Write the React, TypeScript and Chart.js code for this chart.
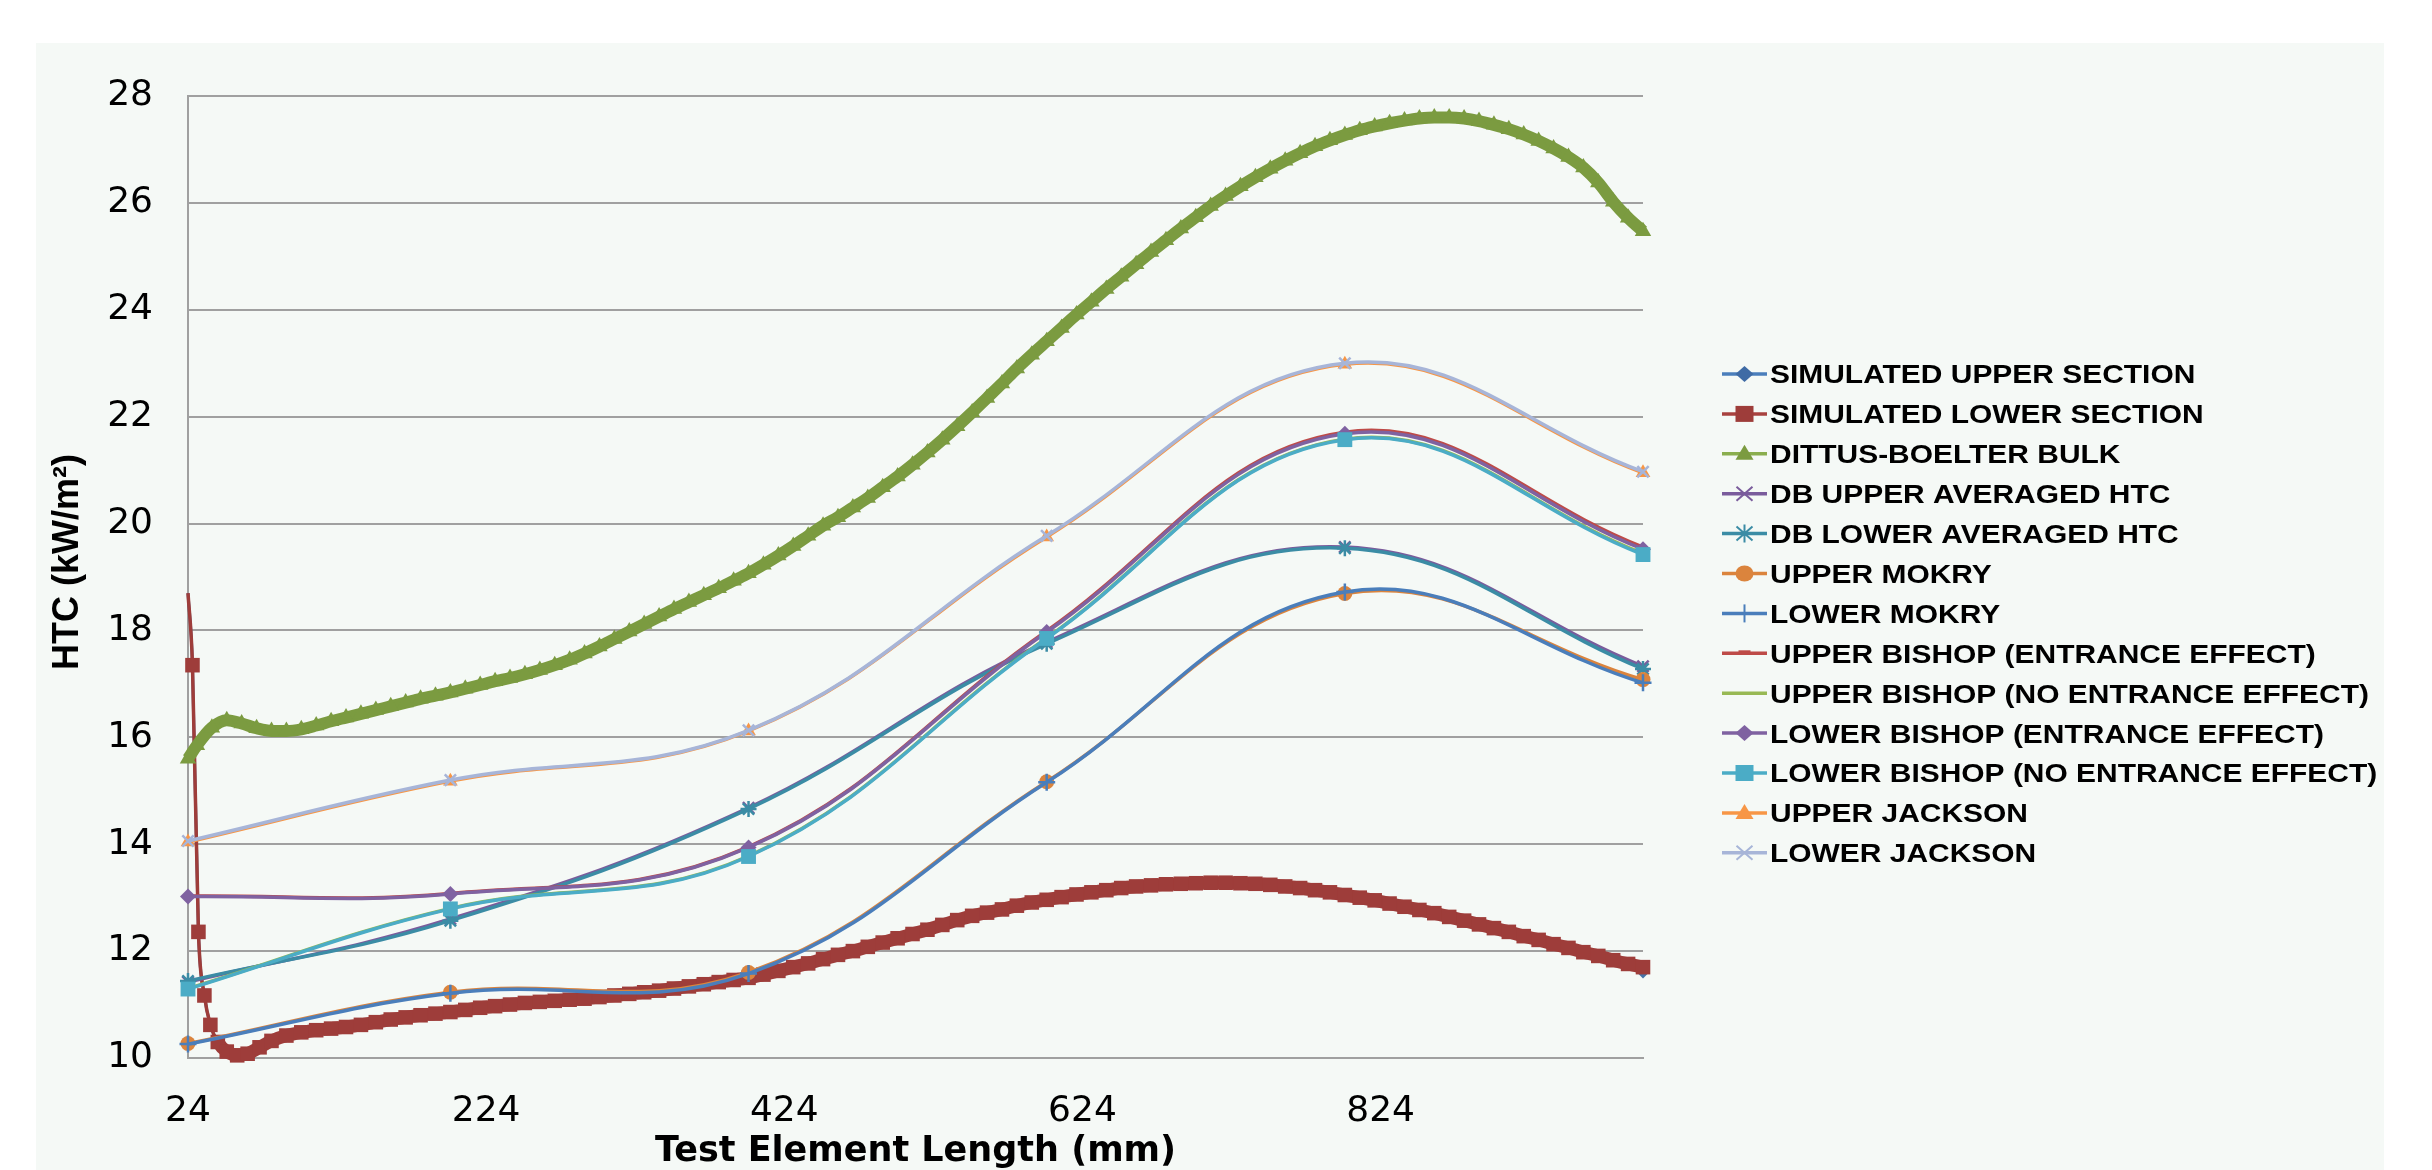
import React, { useEffect, useRef } from 'react';
import { Chart, registerables } from 'chart.js';

Chart.register(...registerables);

// ---------- DATA ----------
const X_TICKS = [24, 224, 424, 624, 824];
const X_POINTS = [24, 200, 400, 600, 800, 1000];

const SERIES_NAMES = [
  'SIMULATED UPPER SECTION',
  'SIMULATED LOWER SECTION',
  'DITTUS-BOELTER BULK',
  'DB UPPER AVERAGED HTC',
  'DB LOWER AVERAGED HTC',
  'UPPER MOKRY',
  'LOWER MOKRY',
  'UPPER BISHOP (ENTRANCE EFFECT)',
  'UPPER BISHOP (NO ENTRANCE EFFECT)',
  'LOWER BISHOP (ENTRANCE EFFECT)',
  'LOWER BISHOP (NO ENTRANCE EFFECT)',
  'UPPER JACKSON',
  'LOWER JACKSON',
];

const SIM_X = [
  24, 27, 31, 35, 39, 44, 50, 57, 64, 72, 80, 90, 100,
  110, 120, 130, 140, 150, 160, 170, 180, 190, 200,
  210, 220, 230, 240, 250, 260, 270, 280, 290, 300,
  310, 320, 330, 340, 350, 360, 370, 380, 390, 400,
  410, 420, 430, 440, 450, 460, 470, 480, 490, 500,
  510, 520, 530, 540, 550, 560, 570, 580, 590, 600,
  610, 620, 630, 640, 650, 660, 670, 680, 690, 700,
  710, 720, 730, 740, 750, 760, 770, 780, 790, 800,
  810, 820, 830, 840, 850, 860, 870, 880, 890, 900,
  910, 920, 930, 940, 950, 960, 970, 980, 990, 1000,
];
const SIM_LOWER = [
  18.7, 17.35, 12.36, 11.17, 10.62, 10.3, 10.12, 10.05, 10.08, 10.2, 10.32, 10.42, 10.48,
  10.52, 10.55, 10.58, 10.62, 10.67, 10.72, 10.76, 10.8, 10.83, 10.86,
  10.9, 10.94, 10.97, 11.0, 11.03, 11.05, 11.07, 11.09, 11.11, 11.14,
  11.17, 11.2, 11.23, 11.26, 11.3, 11.34, 11.38, 11.42, 11.46, 11.5,
  11.56, 11.63, 11.7, 11.77, 11.85, 11.93, 12.0, 12.08, 12.16, 12.24,
  12.32, 12.4, 12.49, 12.58, 12.66, 12.72, 12.78, 12.85, 12.91, 12.96,
  13.01, 13.06, 13.1, 13.14, 13.18, 13.21, 13.23, 13.25, 13.26, 13.27,
  13.28, 13.28, 13.27, 13.26, 13.24, 13.21, 13.18, 13.14, 13.1, 13.05,
  13.0, 12.95, 12.89, 12.83, 12.77, 12.71, 12.64, 12.57, 12.5, 12.43,
  12.36, 12.28, 12.21, 12.13, 12.06, 11.98, 11.91, 11.83, 11.76, 11.7,
];
// the upper-section curve lies underneath the lower-section one
const SIM_UPPER = [
  18.7, 17.35, 12.36, 11.17, 10.62, 10.3, 10.12, 10.05, 10.08, 10.2, 10.32, 10.42, 10.48,
  10.52, 10.55, 10.58, 10.62, 10.67, 10.72, 10.76, 10.8, 10.83, 10.86,
  10.9, 10.94, 10.97, 11.0, 11.03, 11.05, 11.07, 11.09, 11.11, 11.14,
  11.17, 11.2, 11.23, 11.26, 11.3, 11.34, 11.38, 11.42, 11.46, 11.5,
  11.56, 11.63, 11.7, 11.77, 11.85, 11.93, 12.0, 12.08, 12.16, 12.24,
  12.32, 12.4, 12.49, 12.58, 12.66, 12.72, 12.78, 12.85, 12.91, 12.96,
  13.01, 13.06, 13.1, 13.14, 13.18, 13.21, 13.23, 13.25, 13.26, 13.27,
  13.28, 13.28, 13.27, 13.26, 13.24, 13.21, 13.18, 13.14, 13.1, 13.05,
  13.0, 12.95, 12.89, 12.83, 12.77, 12.71, 12.64, 12.57, 12.5, 12.43,
  12.36, 12.28, 12.21, 12.13, 12.06, 11.98, 11.91, 11.83, 11.76, 11.6,
];

const DB_BULK_X = [
  24, 30, 40, 50, 60, 70, 80, 90, 100,
  110, 120, 130, 140, 150, 160, 170, 180, 190, 200,
  210, 220, 230, 240, 250, 260, 270, 280, 290, 300,
  310, 320, 330, 340, 350, 360, 370, 380, 390, 400,
  410, 420, 430, 440, 450, 460, 470, 480, 490, 500,
  510, 520, 530, 540, 550, 560, 570, 580, 590, 600,
  610, 620, 630, 640, 650, 660, 670, 680, 690, 700,
  710, 720, 730, 740, 750, 760, 770, 780, 790, 800,
  810, 820, 830, 840, 850, 860, 870, 880, 890, 900,
  910, 920, 930, 940, 950, 960, 970, 980, 990, 1000,
];
const DB_BULK = [
  15.6, 15.85, 16.18, 16.32, 16.26, 16.17, 16.12, 16.12, 16.15,
  16.22, 16.3, 16.37, 16.44, 16.51, 16.58, 16.65, 16.72, 16.78, 16.84,
  16.91, 16.98, 17.05, 17.11, 17.18, 17.26, 17.35, 17.45, 17.57, 17.7,
  17.84, 17.98, 18.12, 18.26, 18.4, 18.53, 18.66, 18.79, 18.93, 19.07,
  19.23, 19.4, 19.58, 19.77, 19.96, 20.12, 20.3, 20.48, 20.68, 20.88,
  21.1, 21.33, 21.57, 21.82, 22.08, 22.35, 22.62, 22.9, 23.16, 23.41,
  23.66, 23.91, 24.15, 24.39, 24.62, 24.85, 25.08, 25.3, 25.52, 25.73,
  25.94, 26.13, 26.31, 26.48, 26.64, 26.79, 26.93, 27.06, 27.17, 27.27,
  27.36, 27.43, 27.49, 27.54, 27.58, 27.6, 27.6, 27.58, 27.53, 27.46,
  27.38, 27.28, 27.16, 27.02, 26.86, 26.66, 26.38, 26.02, 25.72, 25.47,
];

const DB_UPPER_AVG = [11.42, 12.6, 14.68, 17.78, 19.56, 17.33];
const DB_LOWER_AVG = [11.44, 12.57, 14.66, 17.75, 19.54, 17.28];
const UPPER_MOKRY = [10.27, 11.23, 11.6, 15.17, 18.69, 17.08];
const LOWER_MOKRY = [10.26, 11.21, 11.58, 15.16, 18.72, 17.02];
const UPPER_BISHOP_EE = [13.03, 13.08, 13.95, 17.99, 21.71, 19.56];
const UPPER_BISHOP_NEE = [11.3, 12.8, 13.78, 17.86, 21.58, 19.44];
const LOWER_BISHOP_EE = [13.02, 13.07, 13.94, 17.97, 21.68, 19.52];
const LOWER_BISHOP_NEE = [11.29, 12.79, 13.77, 17.85, 21.57, 19.42];
const UPPER_JACKSON = [14.04, 15.18, 16.12, 19.75, 22.98, 20.95];
const LOWER_JACKSON = [14.06, 15.2, 16.13, 19.77, 23.0, 20.97];

// ---------- STYLE ----------
const BG = '#F5F9F6';
const GRID = '#A0A0A0';

type MarkerKind = 'diamond' | 'square' | 'triangle' | 'x' | 'star' | 'circle' | 'plus' | 'dash' | 'none';

const CHART_POINT_STYLE: Record<MarkerKind, string> = {
  diamond: 'rectRot',
  square: 'rect',
  triangle: 'triangle',
  x: 'crossRot',
  star: 'star',
  circle: 'circle',
  plus: 'cross',
  dash: 'dash',
  none: 'circle',
};

const LEG_X1 = 1686;
const LEG_X2 = 1731;
const LEG_TEXT_X = 1734;
const LEG_Y0 = 331;
const LEG_STEP = 39.9;
const LEG_FONT = 26.5;
const LEG_STRETCH = 1.13;

function drawLegendMarker(ctx: CanvasRenderingContext2D, kind: MarkerKind, x: number, y: number, color: string) {
  ctx.save();
  ctx.fillStyle = color;
  ctx.strokeStyle = color;
  ctx.lineWidth = 2;
  ctx.beginPath();
  switch (kind) {
    case 'diamond':
      ctx.moveTo(x, y - 8);
      ctx.lineTo(x + 9, y);
      ctx.lineTo(x, y + 8);
      ctx.lineTo(x - 9, y);
      ctx.closePath();
      ctx.fill();
      break;
    case 'square':
      ctx.rect(x - 9, y - 8, 18, 16);
      ctx.fill();
      break;
    case 'triangle':
      ctx.moveTo(x, y - 9);
      ctx.lineTo(x + 9, y + 6);
      ctx.lineTo(x - 9, y + 6);
      ctx.closePath();
      ctx.fill();
      break;
    case 'x':
      ctx.moveTo(x - 8, y - 7);
      ctx.lineTo(x + 8, y + 7);
      ctx.moveTo(x + 8, y - 7);
      ctx.lineTo(x - 8, y + 7);
      ctx.stroke();
      break;
    case 'star':
      ctx.moveTo(x - 8, y - 7);
      ctx.lineTo(x + 8, y + 7);
      ctx.moveTo(x + 8, y - 7);
      ctx.lineTo(x - 8, y + 7);
      ctx.moveTo(x, y - 9);
      ctx.lineTo(x, y + 9);
      ctx.stroke();
      break;
    case 'circle':
      ctx.ellipse(x, y, 9, 8, 0, 0, Math.PI * 2);
      ctx.fill();
      break;
    case 'plus':
      ctx.moveTo(x, y - 9);
      ctx.lineTo(x, y + 9);
      ctx.stroke();
      break;
    case 'dash':
      ctx.rect(x - 6, y - 3, 12, 3);
      ctx.fill();
      break;
    default:
      break;
  }
  ctx.restore();
}

const legendPlugin = {
  id: 'htcLegend',
  afterDraw(chart: any) {
    const ctx: CanvasRenderingContext2D = chart.ctx;
    chart.data.datasets.forEach((ds: any, i: number) => {
      const y = LEG_Y0 + i * LEG_STEP;
      ctx.save();
      ctx.strokeStyle = ds.legendColor;
      ctx.lineWidth = 3.5;
      ctx.beginPath();
      ctx.moveTo(LEG_X1, y);
      ctx.lineTo(LEG_X2, y);
      ctx.stroke();
      drawLegendMarker(ctx, ds.marker, (LEG_X1 + LEG_X2) / 2, y, ds.markerColor || ds.legendColor);
      ctx.fillStyle = '#000';
      ctx.font = `bold ${LEG_FONT}px "Liberation Sans", Arial, sans-serif`;
      ctx.textBaseline = 'alphabetic';
      ctx.textAlign = 'left';
      ctx.translate(LEG_TEXT_X, y + LEG_FONT * 0.358);
      ctx.scale(LEG_STRETCH, 1);
      ctx.fillText(ds.label, 0, 0);
      ctx.restore();
    });
  },
};

function pts(xs: number[], ys: number[]) {
  return xs.map((x, i) => ({ x, y: ys[i] }));
}

function corrSeries(
  idx: number,
  values: number[],
  color: string,
  marker: MarkerKind,
  radius: number,
  markerColor?: string
) {
  const mc = markerColor || color;
  const stroked = marker === 'x' || marker === 'star' || marker === 'plus' || marker === 'dash';
  return {
    label: SERIES_NAMES[idx],
    data: pts(X_POINTS, values),
    borderColor: color,
    backgroundColor: mc,
    borderWidth: 3.5,
    tension: 0.4,
    pointStyle: CHART_POINT_STYLE[marker],
    pointRadius: marker === 'none' || marker === 'dash' ? 0 : radius,
    pointBackgroundColor: mc,
    pointBorderColor: mc,
    pointBorderWidth: stroked ? 2.5 : 0,
    clip: false,
    order: 12 - idx,
    marker,
    legendColor: color,
    markerColor: mc,
  };
}

export default function App() {
  const ref = useRef<HTMLCanvasElement>(null);

  useEffect(() => {
    if (!ref.current) return;
    const datasets: any[] = [
      {
        label: SERIES_NAMES[0],
        data: pts(SIM_X, SIM_UPPER),
        borderColor: '#4572A7',
        backgroundColor: '#4572A7',
        borderWidth: 3,
        tension: 0.3,
        cubicInterpolationMode: 'monotone',
        pointStyle: 'rectRot',
        pointRadius: (c: any) => (c.dataIndex === 0 ? 0 : 6),
        pointBorderWidth: 0,
        clip: false,
        order: 12,
        marker: 'diamond',
        legendColor: '#4A7EBB',
        markerColor: '#3F6BA5',
      },
      {
        label: SERIES_NAMES[1],
        data: pts(SIM_X, SIM_LOWER),
        borderColor: '#9E3D3A',
        backgroundColor: '#9E3D3A',
        borderWidth: 3.5,
        segment: {
          borderWidth: (c: any) => (c.p0DataIndex < 5 ? 3.5 : 13),
        },
        tension: 0.3,
        cubicInterpolationMode: 'monotone',
        pointStyle: 'rect',
        pointRadius: (c: any) => (c.dataIndex === 0 ? 0 : 10.3),
        pointBackgroundColor: '#9E3D3A',
        pointBorderWidth: 0,
        clip: false,
        order: 11,
        marker: 'square',
        legendColor: '#A8423F',
        markerColor: '#9E3D3A',
      },
      {
        label: SERIES_NAMES[2],
        data: pts(DB_BULK_X, DB_BULK),
        borderColor: '#7B9B40',
        backgroundColor: '#7B9B40',
        borderWidth: 12,
        tension: 0.3,
        cubicInterpolationMode: 'monotone',
        pointStyle: 'triangle',
        pointRadius: 9.5,
        pointBackgroundColor: '#7B9B40',
        pointBorderWidth: 0,
        clip: false,
        order: 10,
        marker: 'triangle',
        legendColor: '#8AAE4E',
        markerColor: '#7B9B40',
      },
      corrSeries(3, DB_UPPER_AVG, '#7A5C9C', 'x', 8),
      corrSeries(4, DB_LOWER_AVG, '#3B8CA5', 'star', 8),
      corrSeries(5, UPPER_MOKRY, '#DB843D', 'circle', 7.5),
      corrSeries(6, LOWER_MOKRY, '#4A7EBB', 'plus', 8.5),
      corrSeries(7, UPPER_BISHOP_EE, '#BE4B48', 'dash', 0),
      corrSeries(8, UPPER_BISHOP_NEE, '#98B954', 'none', 0),
      corrSeries(9, LOWER_BISHOP_EE, '#7F62A1', 'diamond', 8),
      corrSeries(10, LOWER_BISHOP_NEE, '#4BACC6', 'square', 10.5),
      corrSeries(11, UPPER_JACKSON, '#F79646', 'triangle', 8.5),
      corrSeries(12, LOWER_JACKSON, '#A7B5D8', 'x', 8),
    ];

    const chart = new Chart(ref.current, {
      type: 'line',
      data: { datasets },
      options: {
        animation: false,
        responsive: true,
        maintainAspectRatio: false,
        devicePixelRatio: 1,
        layout: { padding: { top: 20, right: 741, bottom: 0, left: 0 } },
        plugins: {
          legend: { display: false },
          tooltip: { enabled: false },
        },
        scales: {
          x: {
            type: 'linear',
            min: 24,
            max: 1000,
            afterBuildTicks: (s: any) => {
              s.ticks = X_TICKS.map((v) => ({ value: v }));
            },
            afterFit: (s: any) => {
              s.height = 112;
            },
            grid: { display: false, drawTicks: false },
            border: { display: true, color: GRID, width: 2 },
            ticks: {
              autoSkip: false,
              maxRotation: 0,
              minRotation: 0,
              padding: 36,
              color: '#000',
              font: { family: '"DejaVu Sans"', size: 36, lineHeight: 1 },
              callback: (v: any) => String(v),
            },
            title: {
              display: true,
              text: 'Test Element Length (mm)',
              color: '#000',
              font: { family: '"DejaVu Sans"', size: 35, weight: 'bold', lineHeight: 1 },
              padding: { top: 0, bottom: 1 },
            },
          },
          y: {
            type: 'linear',
            min: 10,
            max: 28,
            afterFit: (s: any) => {
              s.width = 152;
            },
            grid: { color: GRID, lineWidth: 2, drawTicks: false },
            border: { display: true, color: GRID, width: 2 },
            ticks: {
              stepSize: 2,
              padding: 35,
              color: '#000',
              font: { family: '"DejaVu Sans"', size: 36, lineHeight: 1 },
            },
            title: {
              display: true,
              text: '   HTC (kW/m²)',
              color: '#000',
              font: { family: '"Liberation Sans"', size: 36, weight: 'bold', lineHeight: 1 },
              padding: { top: 14, bottom: 0 },
            },
          },
        },
      } as any,
      plugins: [legendPlugin],
    });
    return () => chart.destroy();
  }, []);

  return (
    <div
      style={{
        position: 'absolute',
        left: 0,
        top: 0,
        width: 2432,
        height: 1170,
        background: '#fff',
        overflow: 'hidden',
      }}
    >
      <div
        style={{
          position: 'absolute',
          left: 36,
          top: 43,
          width: 2348,
          height: 1127,
          background: BG,
        }}
      >
        <canvas ref={ref} />
      </div>
    </div>
  );
}
